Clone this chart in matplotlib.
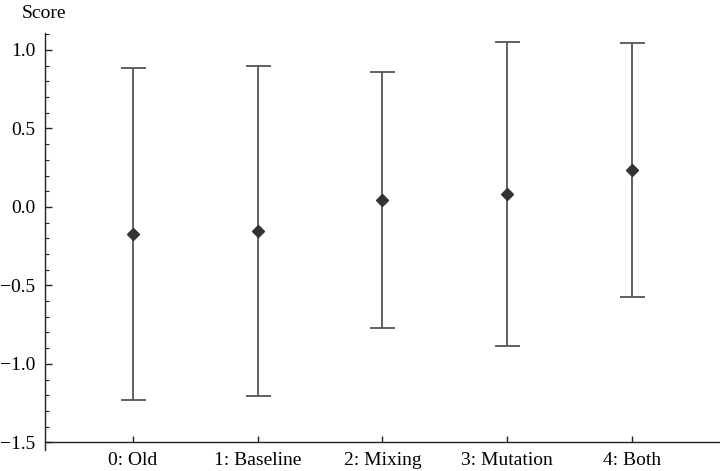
import matplotlib
matplotlib.use("Agg")
import matplotlib.pyplot as plt
from matplotlib.ticker import MultipleLocator
from matplotlib import font_manager

matplotlib.rcParams['font.family'] = 'serif'
matplotlib.rcParams['font.serif'] = ['Liberation Serif', 'DejaVu Serif']
print(font_manager.findfont('Liberation Serif'))

# 数据
categories = ["0: Old", "1: Baseline", "2: Mixing", "3: Mutation", "4: Both"]
means = [-0.175, -0.154, 0.042, 0.080, 0.235]
errors = [1.058, 1.051, 0.816, 0.968, 0.807]


def main():
    fig = plt.figure(figsize=(7.2, 4.71), dpi=100)
    ax = fig.add_axes([45 / 720, 1 - 450.2 / 471, 1 - 45 / 720, (450.2 - 32.7) / 471])

    x = list(range(len(categories)))
    ax.errorbar(x, means, yerr=errors, fmt='none', ecolor='#555555', elinewidth=1.3,
                capsize=9, capthick=1.3)
    ax.plot(x, means, linestyle='none', marker='D', markersize=6.5, color='#333333')

    ax.set_xlim(-0.706, 4.707)
    ax.set_ylim(-1.55, 1.11)

    ax.spines['top'].set_visible(False)
    ax.spines['right'].set_visible(False)
    ax.spines['bottom'].set_position(('data', -1.5))
    for s in ('left', 'bottom'):
        ax.spines[s].set_color('#222222')
        ax.spines[s].set_linewidth(1.0)

    ax.set_xticks(x)
    ax.set_xticklabels(categories)
    ax.yaxis.set_major_locator(MultipleLocator(0.5))
    ax.yaxis.set_minor_locator(MultipleLocator(0.1))
    ax.set_yticks([-1.5, -1.0, -0.5, 0.0, 0.5, 1.0])
    ax.set_yticklabels(["\u22121.5", "\u22121.0", "\u22120.5", "0.0", "0.5", "1.0"])
    ax.tick_params(axis='y', which='major', direction='in', length=5, width=1,
                   labelsize=14, pad=7, colors='#222222', labelcolor='black')
    ax.tick_params(axis='y', which='minor', direction='in', length=3, width=0.8,
                   colors='#222222')
    ax.tick_params(axis='x', which='major', direction='in', length=4, width=1,
                   labelsize=14, pad=7, colors='#222222', labelcolor='black')

    fig.text(22 / 720, 1 - 13 / 471, "Score", fontsize=14, ha='left', va='center')

    fig.savefig("out.png", dpi=100)


if __name__ == '__main__':
    main()
